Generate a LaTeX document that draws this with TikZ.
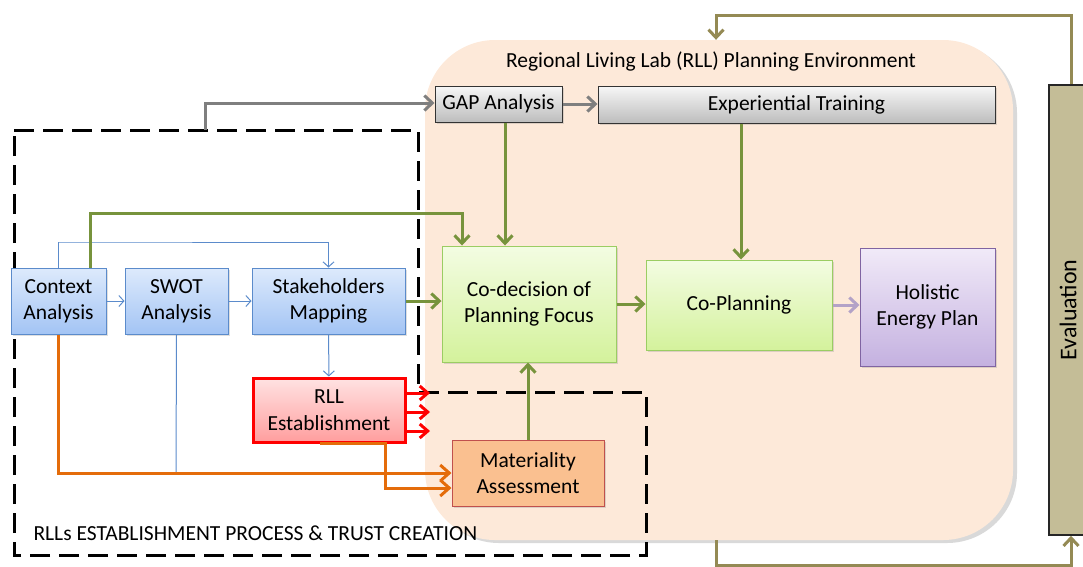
\documentclass[tikz,border=0pt]{standalone}
\usepackage{fontspec}
\setmainfont{Carlito}
\usetikzlibrary{arrows.meta,shadows,calc}
\definecolor{envfill}{HTML}{FDE9D9}
\definecolor{bluetop}{HTML}{DDEAFC}
\definecolor{bluebot}{HTML}{A3C4F4}
\definecolor{blueline}{HTML}{5B8BCB}
\definecolor{greentop}{HTML}{F3FCE2}
\definecolor{greenbot}{HTML}{D4F29C}
\definecolor{greenborder}{HTML}{9BCD63}
\definecolor{greenline}{HTML}{77933C}
\definecolor{purptop}{HTML}{F1EAF8}
\definecolor{purpbot}{HTML}{C4B1E0}
\definecolor{purpborder}{HTML}{8064A2}
\definecolor{purpline}{HTML}{B3A2C7}
\definecolor{graytop}{HTML}{F7F7F7}
\definecolor{graybot}{HTML}{BDBDBD}
\definecolor{grayline}{HTML}{7F7F7F}
\definecolor{redtop}{HTML}{FFE2E2}
\definecolor{redbot}{HTML}{FF9E9E}
\definecolor{matfill}{HTML}{FAC090}
\definecolor{matborder}{HTML}{C0504D}
\definecolor{orangeline}{HTML}{E46C0A}
\definecolor{oliveline}{HTML}{948A54}
\definecolor{evalfill}{HTML}{C4BD97}
\tikzset{
  base/.style={rectangle, inner sep=0pt, align=center, font=\fontsize{21.5}{26.5}\selectfont,
    drop shadow={shadow xshift=1.5pt, shadow yshift=-1.5pt, opacity=0.25}},
  bluebox/.style={base, draw=blueline, line width=1pt, top color=bluetop, bottom color=bluebot},
  greenbox/.style={base, draw=greenborder, line width=1pt, top color=greentop, bottom color=greenbot},
  purpbox/.style={base, draw=purpborder, line width=1pt, top color=purptop, bottom color=purpbot},
  graybox/.style={base, draw=black!80, line width=1pt, top color=graytop, bottom color=graybot},
  redbox/.style={base, draw=red, line width=3pt, top color=redtop, bottom color=redbot},
  matbox/.style={base, draw=matborder, line width=1pt, fill=matfill},
  evalbox/.style={rectangle, inner sep=0pt, draw=black!85, line width=1.5pt, fill=evalfill},
  thinarrow/.style={draw=blueline, line width=1pt, -{Straight Barb[length=5pt,width=11pt]}},
  thinline/.style={draw=blueline, line width=1pt},
  bigbarb/.style={-{Straight Barb[length=8pt,width=15pt]}},
  greenarrow/.style={draw=greenline, line width=3pt, bigbarb},
  grayarrow/.style={draw=grayline, line width=3pt, bigbarb},
  purparrow/.style={draw=purpline, line width=3pt, bigbarb},
  orangearrow/.style={draw=orangeline, line width=3pt, -{Straight Barb[length=9pt,width=16pt]}},
  redarrow/.style={draw=red, line width=3pt, -{Straight Barb[length=8pt,width=14pt]}},
  olivearrow/.style={draw=oliveline, line width=3pt, bigbarb},
  dashedframe/.style={draw=black, line width=3pt, dash pattern=on 20pt off 9pt},
}
\begin{document}
\begin{tikzpicture}[x=1pt,y=-1pt]
\useasboundingbox (0,0) rectangle (1083,566);
\clip (0,0) rectangle (1083,566);

% environment
\node[fill=black, opacity=0.15, rounded corners=70pt, minimum width=588pt, minimum height=500pt, inner sep=0pt] (envshadow) at (723,293) {};
\node[draw=none, fill=envfill, rounded corners=70pt, minimum width=588pt, minimum height=500pt, inner sep=0pt] (env) at (719,290) {};
\node[font=\fontsize{21.5}{26}\selectfont] (envtitle) at (711,61) {Regional Living Lab (RLL) Planning Environment};

% evaluation
\node[evalbox, minimum width=44pt, minimum height=450pt] (eval) at (1071,310) {};
\node[rotate=90, font=\fontsize{24}{28}\selectfont] (evaltext) at (1068,310) {Evaluation};

% dashed frame
\draw[dashedframe] (14,130) -- (418,130) -- (418,392) -- (646,392) -- (646,555) -- (14,555) -- cycle;
\node[anchor=west, font=\fontsize{21.5}{26}\selectfont] (frametitle) at (30,533) {RLLs ESTABLISHMENT PROCESS \& TRUST CREATION};

% boxes
\node[graybox, minimum width=127pt, minimum height=36pt] (gap) at (498.5,104) {GAP Analysis};
\node[graybox, minimum width=397pt, minimum height=37pt] (exp) at (796.5,104.5) {Experiential Training};
\node[bluebox, minimum width=95pt, minimum height=66pt] (ctx) at (58.5,301) {Context\\Analysis};
\node[bluebox, minimum width=103pt, minimum height=66pt] (swot) at (176.5,301) {SWOT\\Analysis};
\node[bluebox, minimum width=153pt, minimum height=66pt] (stake) at (328.5,301) {Stakeholders\\Mapping};
\node[redbox, minimum width=152pt, minimum height=64pt] (rll) at (329,410) {RLL\\Establishment};
\node[matbox, minimum width=152pt, minimum height=66pt] (mat) at (528,473) {Materiality\\Assessment};
\node[greenbox, minimum width=174pt, minimum height=116pt] (codec) at (529,304) {Co-decision of\\Planning Focus};
\node[greenbox, minimum width=186pt, minimum height=90pt] (coplan) at (739,305) {Co-Planning};
\node[purpbox, minimum width=135pt, minimum height=118pt] (hol) at (927.5,307) {Holistic\\Energy Plan};

% helper coordinates
\coordinate (c1) at (59,242);
\coordinate (c2) at (329,242);
\coordinate (g1) at (90,213);
\coordinate (g2) at (462,213);
\coordinate (gapx) at (505,0);
\coordinate (expx) at (741,0);
\coordinate (matx) at (528,0);
\coordinate (sw) at (176,473);
\coordinate (o1) at (59,473);
\coordinate (o2) at (385,488);
\coordinate (o0) at (320,443);
\coordinate (gy) at (205,103);
\coordinate (gs) at (205,130);
\coordinate (r1) at (430,393);
\coordinate (r2) at (430,412);
\coordinate (r3) at (430,431);
\coordinate (l1) at (716,15);
\coordinate (l2) at (716,565);
\coordinate (evx) at (1071,0);

% blue connectors
\draw[thinarrow] (ctx) -- (swot);
\draw[thinarrow] (swot) -- (stake);
\draw[thinarrow] (ctx.north) |- (c1) -| (stake.north);
\draw[thinarrow] (stake) -- (rll);
\draw[thinline] (swot.south) -- (sw);

% orange connectors
\draw[orangearrow] (ctx.south) |- (mat.west |- o1);
\draw[orangearrow] (o0) -| (o2) -- (mat.west |- o2);

% red arrows
\draw[redarrow] (rll.east |- r1) -- (r1);
\draw[redarrow] (rll.east |- r2) -- (r2);
\draw[redarrow] (rll.east |- r3) -- (r3);

% green connectors
\draw[greenarrow] (ctx.north -| g1) -- (g1) -- (g2) -- (codec.north -| g2);
\draw[greenarrow] (gap.south -| gapx) -- (codec.north -| gapx);
\draw[greenarrow] (exp.south -| expx) -- (coplan.north -| expx);
\draw[greenarrow] (stake.east) -- (codec.west |- stake.east);
\draw[greenarrow] (codec.east) -- (coplan.west |- codec.east);
\draw[greenarrow] (mat.north -| matx) -- (codec.south -| matx);
\draw[purparrow] (coplan.east) -- (hol.west |- coplan.east);

% gray connectors
\draw[grayarrow] (gs) -- (gy) -- (gap.west |- gy);
\draw[grayarrow] (gap.east) -- (exp.west |- gap.east);

% olive loop
\draw[olivearrow] (eval.north -| evx) |- (l1) -- (env.north -| l1);
\draw[olivearrow] (env.south -| l2) -- (l2) -| (eval.south -| evx);
\end{tikzpicture}
\end{document}
